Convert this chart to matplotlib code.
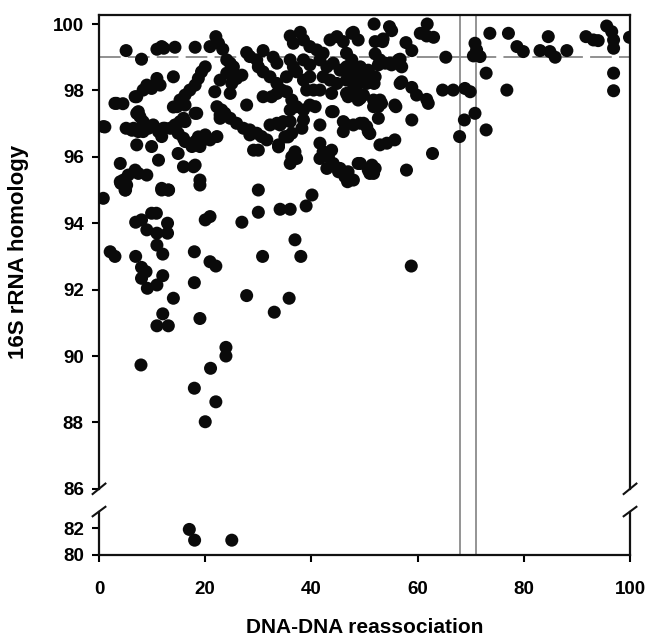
import matplotlib
matplotlib.use("Agg")
import matplotlib.pyplot as plt

plt.rcParams['font.family'] = ['Liberation Sans', 'DejaVu Sans']
plt.rcParams['font.weight'] = 'bold'

# points in the upper panel (DNA-DNA reassociation %, 16S rRNA similarity %)
top_band = [
    (5.1, 99.2), (8.0, 98.94), (10.9, 99.24), (11.8, 99.32), (12.2, 99.27), (14.3, 99.3),
    (18.1, 99.3), (20.9, 99.32), (22.0, 99.62), (22.5, 99.42), (23.3, 99.24), (27.8, 99.14),
    (30.9, 99.2), (32.8, 99.0), (33.5, 98.82), (36.0, 99.64), (37.9, 99.75), (36.6, 99.42),
    (38.5, 99.52), (39.7, 99.32), (41.0, 99.22), (42.2, 99.12), (43.5, 99.52), (44.8, 99.62),
    (46.0, 99.47), (47.9, 99.75), (48.8, 99.52), (47.6, 99.72), (51.8, 100.0), (54.7, 99.92),
    (55.1, 99.8), (61.8, 100.0), (60.5, 99.72), (61.7, 99.64), (63.0, 99.6), (52.0, 99.47),
    (53.4, 99.47), (53.5, 99.55), (57.8, 99.44), (58.9, 99.2), (52.0, 99.1), (65.3, 99.0),
    (46.6, 99.12), (29.7, 98.92), (28.4, 99.02),
]

right_side = [
    (70.8, 99.42), (71.1, 99.22), (71.75, 99.02), (70.5, 99.04), (73.6, 99.72), (77.1, 99.72),
    (78.7, 99.32), (79.9, 99.17), (83.05, 99.2), (84.6, 99.62), (84.9, 99.17), (85.9, 99.0),
    (88.1, 99.2), (91.7, 99.62), (93.1, 99.52), (94.0, 99.5), (95.6, 99.94), (96.55, 99.77),
    (96.9, 99.52), (96.9, 99.27), (99.9, 99.6), (96.9, 98.52), (96.9, 97.99), (72.9, 98.52),
    (76.8, 98.01), (64.7, 98.01), (66.7, 98.01), (68.9, 98.06), (69.9, 97.96), (70.8, 97.31),
    (68.8, 97.11), (67.9, 96.61), (72.9, 96.81), (62.8, 96.1), (57.9, 95.6), (58.9, 97.11),
    (55.9, 97.51), (52.9, 96.36), (54.2, 96.41), (55.7, 96.51), (51.4, 95.75), (52.0, 95.65),
    (49.2, 95.8), (56.7, 98.21), (58.9, 98.09), (59.8, 97.86), (61.7, 97.73), (62.0, 97.61),
    (51.8, 98.21), (49.8, 98.41), (50.7, 98.61), (52.9, 98.92), (54.8, 98.82), (56.7, 98.94),
    (57.0, 98.71), (51.7, 97.71), (52.9, 97.71), (52.6, 97.51), (51.7, 97.51), (52.6, 97.16),
    (49.8, 97.01), (50.7, 96.76), (49.2, 97.76), (49.8, 97.86), (51.7, 95.5), (50.7, 95.6),
    (58.8, 92.71),
]

dense_mid = [
    (24.05, 98.92), (24.7, 98.82), (25.3, 98.71), (20.0, 98.71), (19.3, 98.56), (18.7, 98.36),
    (18.1, 98.16), (17.1, 98.01), (16.2, 97.86), (15.25, 97.71), (14.7, 97.51), (14.0, 98.41),
    (10.9, 98.36), (9.0, 98.16), (8.3, 98.01), (7.1, 97.81), (9.9, 98.06), (11.5, 98.16),
    (3.3, 97.61), (4.5, 97.6), (21.8, 97.96), (24.7, 97.91), (22.8, 98.31), (24.05, 98.52),
    (25.9, 98.36), (26.9, 98.46), (22.2, 97.51), (23.1, 97.41), (22.8, 97.26), (27.8, 97.56),
    (23.7, 97.31), (24.7, 97.16), (25.9, 97.01), (27.2, 96.86), (28.4, 96.81), (29.7, 96.71),
    (30.6, 96.61), (31.6, 96.51), (29.1, 96.2), (30.0, 96.2), (32.2, 96.96), (33.5, 97.01),
    (34.7, 97.06), (36.0, 97.06), (33.8, 96.36), (35.3, 96.61), (36.3, 96.71), (36.0, 95.8),
    (36.3, 96.0), (36.9, 96.15), (36.3, 97.71), (36.0, 97.41), (37.2, 97.51), (38.5, 97.41),
    (39.7, 97.56), (40.7, 97.51), (38.5, 97.11), (38.2, 96.86), (41.6, 96.96), (41.6, 96.41),
    (42.2, 96.15), (43.2, 96.0), (44.1, 95.8), (45.4, 95.65), (46.9, 95.55), (47.9, 95.3),
    (43.8, 97.36), (46.0, 97.06), (47.9, 96.96), (49.2, 97.01), (50.4, 96.91), (43.8, 97.91),
    (46.6, 97.91), (47.9, 98.01), (49.2, 97.81), (0.8, 96.91),
    (5.1, 96.86), (6.5, 96.86), (7.4, 96.76), (8.3, 96.76), (9.3, 96.86), (10.2, 96.96),
    (11.2, 96.76), (12.1, 96.86), (13.4, 96.86), (14.3, 96.96), (15.25, 97.06), (16.2, 97.06),
    (7.1, 97.31), (7.7, 97.21), (8.3, 97.06), (7.1, 96.36), (9.9, 96.31), (11.8, 96.61),
    (11.2, 95.9), (14.9, 96.1), (15.9, 95.7), (18.1, 95.75), (19.0, 95.3), (4.0, 95.8),
    (6.8, 95.6), (9.0, 95.45), (4.6, 95.3), (5.2, 95.15), (4.0, 95.25), (11.8, 95.05),
    (13.05, 95.0), (3.0, 97.61), (6.8, 97.81), (18.4, 97.31), (25.0, 98.21), (20.9, 96.51),
    (22.2, 96.61), (19.6, 96.51), (18.4, 96.41), (17.5, 96.31), (19.0, 96.31), (16.2, 96.46),
    (14.9, 96.71), (15.9, 96.56),
    (30.0, 98.71), (30.9, 98.56), (32.2, 98.41), (33.5, 98.21), (34.4, 98.01), (35.3, 97.96),
    (30.9, 97.81), (32.5, 97.81), (33.5, 97.91), (35.3, 98.41), (37.2, 98.56), (38.5, 98.31),
    (39.7, 98.41), (39.1, 98.01), (40.4, 98.01), (41.6, 98.01), (36.0, 98.92), (36.6, 98.71),
    (38.5, 98.92), (39.7, 98.77), (41.6, 98.92), (42.9, 98.71), (44.1, 98.82), (45.4, 98.61),
    (46.6, 98.71), (47.9, 98.56), (49.2, 98.71), (42.2, 98.41), (43.5, 98.31), (44.8, 98.21),
    (46.6, 98.31), (48.5, 98.11), (50.4, 98.21),
    (33.8, 96.3), (35.6, 96.6), (37.2, 95.95), (43.8, 96.2), (41.6, 95.95), (42.9, 95.65),
    (45.1, 95.55), (46.3, 95.4), (44.1, 97.36), (46.0, 96.76), (34.1, 96.96), (35.0, 96.6),
    (22.8, 97.16), (28.4, 96.66), (1.1, 96.9), (6.2, 96.8), (7.4, 95.5), (5.5, 95.45),
    (4.9, 95.0), (17.8, 95.7), (18.1, 96.46), (20.0, 96.66), (18.7, 96.6), (8.7, 96.96),
    (12.4, 96.86), (15.9, 97.16), (18.1, 97.31), (16.2, 97.56), (14.0, 97.5), (7.4, 97.36),
    (47.6, 98.92), (46.9, 98.61), (48.8, 98.41), (50.1, 98.31), (52.6, 98.77), (53.9, 98.82),
    (55.1, 98.77), (56.4, 98.92), (50.7, 98.56), (52.0, 98.41), (57.0, 98.26), (53.2, 97.61),
    (55.7, 97.56), (47.6, 98.26), (48.2, 98.01), (46.9, 97.81), (48.8, 97.71), (48.8, 95.8),
    (51.0, 95.5), (47.0, 95.3), (46.3, 97.0), (51.0, 96.7), (46.8, 95.25),
]

lower_left = [
    (0.8, 94.75), (4.1, 95.2), (5.0, 95.0), (6.9, 94.03), (8.0, 94.1), (9.0, 93.8),
    (9.9, 94.3), (10.8, 94.3), (12.9, 94.0), (12.9, 93.7), (10.9, 93.7), (11.8, 95.0),
    (13.1, 95.0), (19.0, 95.15), (2.1, 93.14), (3.0, 93.0), (6.9, 93.0), (8.0, 92.67),
    (8.85, 92.54), (8.0, 92.34), (9.1, 92.04), (10.9, 92.14), (12.0, 92.42), (10.9, 93.34),
    (12.0, 93.07), (14.0, 91.74), (12.0, 91.27), (10.9, 90.91), (13.05, 90.91), (7.9, 89.73),
    (17.95, 93.14), (17.95, 92.21), (19.0, 91.13), (20.0, 94.1), (20.9, 94.2), (20.9, 92.84),
    (22.0, 92.71), (23.9, 90.26), (23.9, 90.0), (21.0, 89.63), (26.9, 94.03), (30.0, 95.0),
    (30.0, 94.33), (27.8, 91.82), (30.8, 93.0), (33.0, 91.32), (34.1, 94.42), (36.0, 94.42),
    (39.0, 94.52), (40.1, 94.85), (36.9, 93.5), (38.0, 93.0), (35.8, 91.74), (17.95, 89.03),
    (22.0, 88.62), (20.0, 88.02),
]

# the three pairs below the axis break
low_dna = [17, 18, 25]
low_rrna = [81.9, 81.1, 81.1]

species_cutoff = [68, 71]
rrna_cutoff = 99.0

pts = top_band + right_side + dense_mid + lower_left
dna = [p[0] for p in pts]
rrna = [p[1] for p in pts]

fig = plt.figure(figsize=(6.46, 6.43), dpi=100)
ax1 = fig.add_axes([0.1533, 0.2398, 0.822, 0.7373])
ax2 = fig.add_axes([0.1533, 0.1369, 0.822, 0.0669])

dot = dict(s=88, color='#0a0a0a', edgecolors='none', zorder=3)
ax1.scatter(dna, rrna, **dot)
ax2.scatter(low_dna, low_rrna, **dot)

for x in species_cutoff:
    ax1.axvline(x, ymin=-0.05, ymax=1, color='#777777', lw=1.1, clip_on=False, zorder=1)
    ax2.axvline(x, color='#777777', lw=1.1, zorder=1)
ax1.axhline(rrna_cutoff, color='#888888', lw=1.3, dashes=(12, 4), zorder=1)

ax1.set_xlim(0, 100)
ax2.set_xlim(0, 100)
ax1.set_ylim(86, 100.28)
ax2.set_ylim(80, 83.2)

ax1.set_yticks(range(86, 101, 2))
ax2.set_yticks([80, 82])
ax1.set_xticks([])
ax2.set_xticks(range(0, 101, 20))

for a in (ax1, ax2):
    for s in a.spines.values():
        s.set_linewidth(1.6)
        s.set_color('#111111')
    a.tick_params(direction='out', length=5, width=1.5, labelsize=13.5, pad=6)
    for lab in a.get_xticklabels() + a.get_yticklabels():
        lab.set_fontweight('bold')
ax1.spines['bottom'].set_visible(False)
ax2.spines['top'].set_visible(False)
ax2.tick_params(axis='x', pad=14)

# break marks
kw = dict(color='#111111', lw=1.5, clip_on=False)
dx = 0.012
for xa in (0, 1):
    ax1.plot([xa - dx, xa + dx], [-0.011, 0.011], transform=ax1.transAxes, **kw)
    ax2.plot([xa - dx, xa + dx], [0.9, 1.12], transform=ax2.transAxes, **kw)

ax1.set_ylabel('16S rRNA homology', fontsize=16, fontweight='bold', labelpad=17)
ax2.set_xlabel('DNA-DNA reassociation', fontsize=15, fontweight='bold', labelpad=14)

fig.savefig('out.png', dpi=100)
